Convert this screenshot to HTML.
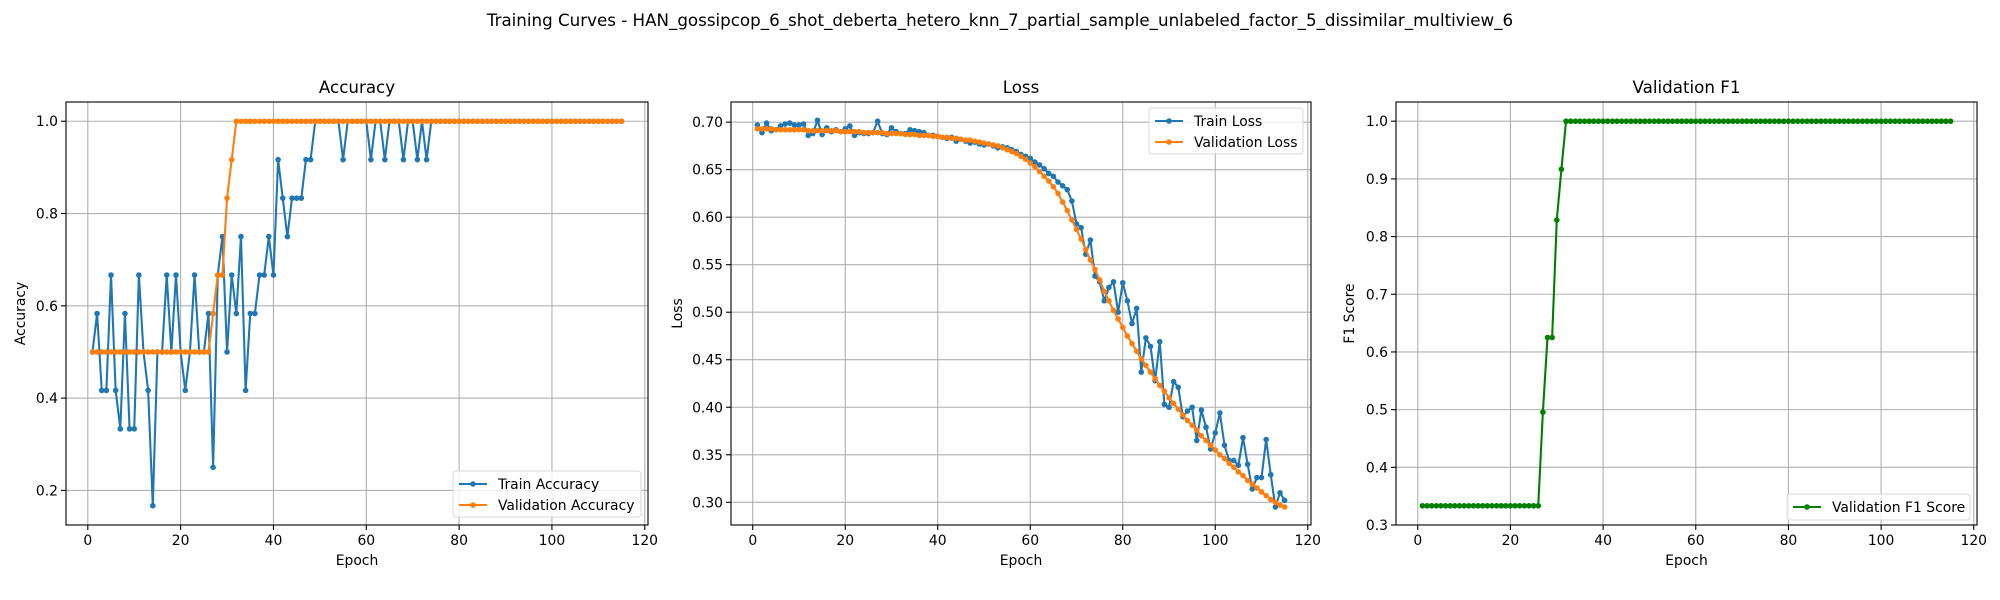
<!DOCTYPE html>
<html><head><meta charset="utf-8">
<style>
body{margin:0;background:#fff;}
svg{display:block;font-family:"DejaVu Sans","Liberation Sans",sans-serif;}
</style></head>
<body>
<svg id="fig" width="2000" height="600" viewBox="0 0 2000 600" xmlns="http://www.w3.org/2000/svg">
<rect width="2000" height="600" fill="#fff"/>
<text x="1000" y="26" text-anchor="middle" font-size="16.7" fill="#000">Training Curves - HAN_gossipcop_6_shot_deberta_hetero_knn_7_partial_sample_unlabeled_factor_5_dissimilar_multiview_6</text>
</svg>
<script>
const trainAcc = [0.5,0.5833,0.4167,0.4167,0.6667,0.4167,0.3333,0.5833,0.3333,0.3333,0.6667,0.5,0.4167,0.1667,0.5,0.5,0.6667,0.5,0.6667,0.5,0.4167,0.5,0.6667,0.5,0.5,0.5833,0.25,0.6667,0.75,0.5,0.6667,0.5833,0.75,0.4167,0.5833,0.5833,0.6667,0.6667,0.75,0.6667,0.9167,0.8333,0.75,0.8333,0.8333,0.8333,0.9167,0.9167,1,1,1,1,1,1,0.9167,1,1,1,1,1,0.9167,1,1,0.9167,1,1,1,0.9167,1,1,0.9167,1,0.9167,1,1,1,1,1,1,1,1,1,1,1,1,1,1,1,1,1,1,1,1,1,1,1,1,1,1,1,1,1,1,1,1,1,1,1,1,1,1,1,1,1,1];
const valAcc = [0.5,0.5,0.5,0.5,0.5,0.5,0.5,0.5,0.5,0.5,0.5,0.5,0.5,0.5,0.5,0.5,0.5,0.5,0.5,0.5,0.5,0.5,0.5,0.5,0.5,0.5,0.5833,0.6667,0.6667,0.8333,0.9167,1,1,1,1,1,1,1,1,1,1,1,1,1,1,1,1,1,1,1,1,1,1,1,1,1,1,1,1,1,1,1,1,1,1,1,1,1,1,1,1,1,1,1,1,1,1,1,1,1,1,1,1,1,1,1,1,1,1,1,1,1,1,1,1,1,1,1,1,1,1,1,1,1,1,1,1,1,1,1,1,1,1,1,1];
const trainLoss = [0.697,0.689,0.699,0.691,0.692,0.696,0.698,0.699,0.697,0.697,0.698,0.686,0.688,0.702,0.687,0.694,0.690,0.692,0.690,0.693,0.696,0.686,0.689,0.688,0.688,0.689,0.701,0.688,0.687,0.694,0.690,0.688,0.688,0.692,0.691,0.690,0.689,0.686,0.686,0.685,0.684,0.683,0.684,0.680,0.682,0.680,0.678,0.679,0.677,0.676,0.677,0.675,0.673,0.674,0.673,0.671,0.669,0.666,0.664,0.662,0.658,0.655,0.651,0.646,0.643,0.637,0.633,0.629,0.617,0.593,0.589,0.561,0.576,0.538,0.532,0.512,0.526,0.532,0.500,0.531,0.512,0.488,0.504,0.437,0.473,0.464,0.428,0.469,0.403,0.400,0.427,0.421,0.390,0.396,0.400,0.365,0.397,0.379,0.356,0.373,0.394,0.360,0.344,0.344,0.339,0.368,0.340,0.314,0.326,0.326,0.366,0.329,0.295,0.310,0.302];
const valLoss = [0.693,0.693,0.693,0.693,0.692,0.692,0.692,0.692,0.692,0.692,0.692,0.691,0.691,0.691,0.691,0.691,0.691,0.691,0.690,0.690,0.690,0.690,0.690,0.689,0.689,0.689,0.689,0.689,0.688,0.688,0.688,0.688,0.687,0.687,0.687,0.686,0.686,0.686,0.685,0.685,0.684,0.684,0.683,0.683,0.682,0.681,0.681,0.680,0.679,0.678,0.677,0.676,0.675,0.673,0.671,0.669,0.667,0.664,0.661,0.657,0.653,0.648,0.643,0.638,0.632,0.625,0.616,0.607,0.597,0.587,0.577,0.566,0.555,0.545,0.534,0.522,0.512,0.502,0.493,0.484,0.475,0.467,0.459,0.451,0.444,0.437,0.430,0.423,0.417,0.410,0.404,0.398,0.392,0.386,0.381,0.376,0.370,0.365,0.360,0.355,0.350,0.346,0.341,0.337,0.332,0.328,0.323,0.319,0.315,0.311,0.307,0.303,0.300,0.297,0.295];
const valF1 = [0.3333,0.3333,0.3333,0.3333,0.3333,0.3333,0.3333,0.3333,0.3333,0.3333,0.3333,0.3333,0.3333,0.3333,0.3333,0.3333,0.3333,0.3333,0.3333,0.3333,0.3333,0.3333,0.3333,0.3333,0.3333,0.3333,0.4955,0.625,0.625,0.8286,0.9167,1,1,1,1,1,1,1,1,1,1,1,1,1,1,1,1,1,1,1,1,1,1,1,1,1,1,1,1,1,1,1,1,1,1,1,1,1,1,1,1,1,1,1,1,1,1,1,1,1,1,1,1,1,1,1,1,1,1,1,1,1,1,1,1,1,1,1,1,1,1,1,1,1,1,1,1,1,1,1,1,1,1,1,1];
const xTicks = [0,20,40,60,80,100,120];
const accTicks = [0.2,0.4,0.6,0.8,1.0];
const lossTicks = [0.30,0.35,0.40,0.45,0.50,0.55,0.60,0.65,0.70];
const f1Ticks = [0.3,0.4,0.5,0.6,0.7,0.8,0.9,1.0];

const NS = "http://www.w3.org/2000/svg";
const svg = document.getElementById('fig');
function mk(tag, attrs, parent){
  const e = document.createElementNS(NS, tag);
  for (const k in attrs) e.setAttribute(k, attrs[k]);
  (parent||svg).appendChild(e);
  return e;
}
function panel(cfg){
  const g = mk('g', {});
  
  
  const L=cfg.left, R=cfg.right, T=102, B=525;
  const sx = v => L + (v - (-4.7)) / (120.7 - (-4.7)) * (R - L);
  const sy = v => B - (v - cfg.ymin) / (cfg.ymax - cfg.ymin) * (B - T);
  // grid
  xTicks.forEach(t => {
    const x = sx(t);
    const gl = mk('line', {x1:x, x2:x, y1:T, y2:B, stroke:'#b0b0b0', 'stroke-width':1.1}, g);
    
    
    mk('line', {x1:x, x2:x, y1:B, y2:B+5, stroke:'#000', 'stroke-width':1.1}, g);
    const tl = mk('text', {x:x, y:B+20, 'text-anchor':'middle', 'font-size':13.9, fill:'#000'}, g);
    tl.textContent = t;
    
    
  });
  cfg.ticks.forEach(t => {
    const y = sy(t);
    const gl = mk('line', {x1:L, x2:R, y1:y, y2:y, stroke:'#b0b0b0', 'stroke-width':1.1}, g);
    
    
    mk('line', {x1:L-5, x2:L, y1:y, y2:y, stroke:'#000', 'stroke-width':1.1}, g);
    const tl = mk('text', {x:L-8, y:y+5, 'text-anchor':'end', 'font-size':13.9, fill:'#000'}, g);
    tl.textContent = t.toFixed(cfg.dec);
    
    
  });
  // series
  cfg.series.forEach(s => {
    const pts = s.data.map((v,i) => sx(i+1).toFixed(2) + ',' + sy(v).toFixed(2)).join(' ');
    const sg = mk('g', {}, g);
    
    
    mk('polyline', {points:pts, fill:'none', stroke:s.color, 'stroke-width':2.1, 'stroke-linejoin':'round'}, sg);
    s.data.forEach((v,i) => {
      const c = mk('circle', {cx:sx(i+1), cy:sy(v), r:2.8, fill:s.color}, sg);
      
      
    });
  });
  const fr = mk('rect', {x:L, y:T, width:R-L, height:B-T, fill:'none', stroke:'#000', 'stroke-width':1.1}, g);
  
  
  const ti = mk('text', {x:(L+R)/2, y:93, 'text-anchor':'middle', 'font-size':16.7, fill:'#000'}, g);
  ti.textContent = cfg.title;
  
  
  const xl = mk('text', {x:(L+R)/2, y:565, 'text-anchor':'middle', 'font-size':13.9, fill:'#000'}, g);
  xl.textContent = 'Epoch';
  
  
  const yl = mk('text', {x:0, y:0, 'text-anchor':'middle', 'font-size':13.9, fill:'#000', transform:`translate(${cfg.ylabX},${(T+B)/2}) rotate(-90)`}, g);
  yl.textContent = cfg.ylabel;
  
  
  // legend
  const lg = mk('g', {}, g);
  
  
  const lb = cfg.legend;
  mk('rect', {x:lb.x, y:lb.y, width:lb.w, height:lb.h, rx:3, fill:'#fff', 'fill-opacity':0.8, stroke:'#d8d8d8', 'stroke-width':1}, lg);
  cfg.series.forEach((s,k) => {
    const yy = lb.y + 13 + k*21;
    const le = mk('g', {}, lg);
    
    
    mk('line', {x1:lb.x+6, x2:lb.x+34, y1:yy, y2:yy, stroke:s.color, 'stroke-width':2.1}, le);
    mk('circle', {cx:lb.x+20, cy:yy, r:2.8, fill:s.color}, le);
    const t = mk('text', {x:lb.x+45, y:yy+5, 'font-size':13.9, fill:'#000'}, le);
    t.textContent = s.label;
  });
}
panel({name:'accuracy', left:66, right:648, ymin:0.125, ymax:1.0417, ticks:accTicks, dec:1, title:'Accuracy', ylabel:'Accuracy', ylabX:25,
  series:[{name:'train-accuracy-line', label:'Train Accuracy', color:'#1f77b4', data:trainAcc},{name:'validation-accuracy-line', label:'Validation Accuracy', color:'#ff7f0e', data:valAcc}],
  legend:{x:453, y:471, w:188, h:46}});
panel({name:'loss', left:731, right:1311, ymin:0.2761, ymax:0.7212, ticks:lossTicks, dec:2, title:'Loss', ylabel:'Loss', ylabX:682,
  series:[{name:'train-loss-line', label:'Train Loss', color:'#1f77b4', data:trainLoss},{name:'validation-loss-line', label:'Validation Loss', color:'#ff7f0e', data:valLoss}],
  legend:{x:1149, y:108, w:154, h:46}});
panel({name:'f1', left:1396, right:1977, ymin:0.3, ymax:1.0333, ticks:f1Ticks, dec:1, title:'Validation F1', ylabel:'F1 Score', ylabX:1354,
  series:[{name:'validation-f1-line', label:'Validation F1 Score', color:'#008000', data:valF1}],
  legend:{x:1787, y:494, w:183, h:26}});
</script>
</body></html>
